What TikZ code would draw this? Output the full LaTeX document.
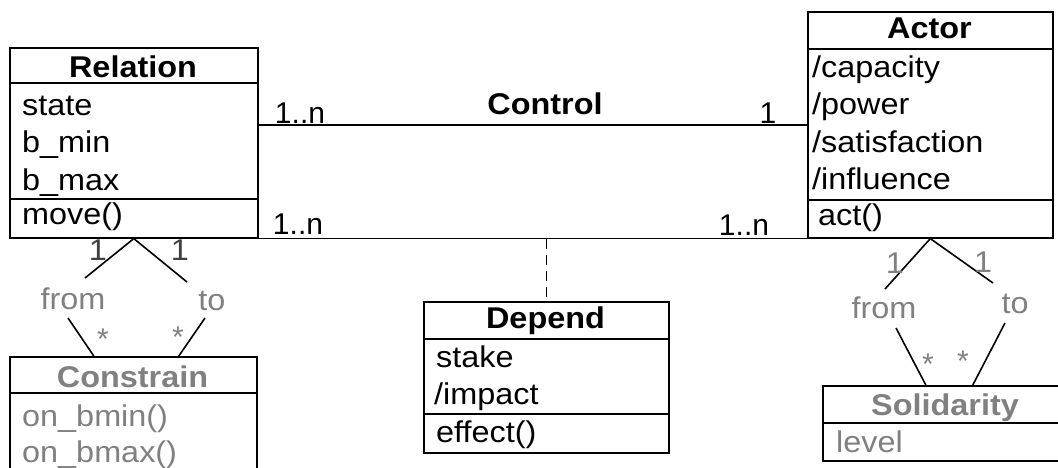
\documentclass[tikz,border=0pt]{standalone}
\usepackage{fontspec}
\setmainfont{Liberation Sans}[FakeStretch=1.08]
\newfontfamily\plainsans{Liberation Sans}
\usepackage{tikz}
\usetikzlibrary{positioning}

\definecolor{fadegray}{RGB}{128,128,128}
\newcommand\umlfont{\fontsize{30}{37}\selectfont}

\begin{document}
\begin{tikzpicture}[y=-1pt,x=1pt,
	classbox/.style={draw, line width=1.6pt, anchor=north west, inner sep=0},
	title/.style={font=\umlfont\bfseries, anchor=base, inner sep=0},
	member/.style={font=\umlfont, anchor=base west, inner sep=0},
	mult/.style={font=\plainsans\umlfont, anchor=base, inner sep=0},
	role/.style={font=\umlfont, text=fadegray, inner sep=0},
	link/.style={line width=1.6pt}]
	\useasboundingbox (0,0) rectangle (1058,467);
	\clip (0,0) rectangle (1058,467);

	% class boxes
	\node[classbox, minimum width=248pt, minimum height=190pt] (relation) at (9,47) {};
	\node[classbox, minimum width=245pt, minimum height=226pt] (actor) at (807,11) {};
	\node[classbox, minimum width=245pt, minimum height=151pt] (depend) at (423,301) {};
	\node[classbox, minimum width=247pt, minimum height=130pt] (constrain) at (9,356) {};
	\node[classbox, minimum width=246pt, minimum height=75pt] (solidarity) at (822,385) {};

	% compartments
	\draw[link] (relation.west |- 0,83) -- (relation.east |- 0,83);
	\draw[link] (relation.west |- 0,199) -- (relation.east |- 0,199);
	\draw[link] (actor.west |- 0,49) -- (actor.east |- 0,49);
	\draw[link] (actor.west |- 0,200) -- (actor.east |- 0,200);
	\draw[link] (depend.west |- 0,339) -- (depend.east |- 0,339);
	\draw[link] (depend.west |- 0,414) -- (depend.east |- 0,414);
	\draw[link] (constrain.west |- 0,393) -- (constrain.east |- 0,393);
	\draw[link] (solidarity.west |- 0,423) -- (solidarity.east |- 0,423);

	% Relation
	\node[title] (relation-name) at (133,77) {Relation};
	\node[member] (rel-state) at (22,115) {state};
	\node[member] (rel-bmin) at (22,152) {b\_min};
	\node[member] (rel-bmax) at (22,190) {b\_max};
	\node[member] (rel-move) at (22,224) {move()};

	% Actor
	\node[title] (actor-name) at (929.5,38) {Actor};
	\node[member] (act-capacity) at (812,77) {/capacity};
	\node[member] (act-power) at (812,114) {/power};
	\node[member] (act-satisfaction) at (812,152) {/satisfaction};
	\node[member] (act-influence) at (812,189) {/influence};
	\node[member] (act-act) at (818,225) {act()};

	% Depend
	\node[title] (depend-name) at (545.5,328) {Depend};
	\node[member] (dep-stake) at (436,367) {stake};
	\node[member] (dep-impact) at (434,404) {/impact};
	\node[member] (dep-effect) at (436,442) {effect()};

	% Constrain
	\node[title, text=fadegray] (constrain-name) at (132.5,387) {Constrain};
	\node[member, text=fadegray] (con-bmin) at (22,426) {on\_bmin()};
	\node[member, text=fadegray] (con-bmax) at (22,462) {on\_bmax()};

	% Solidarity
	\node[title, text=fadegray] (solidarity-name) at (945,415) {Solidarity};
	\node[member, text=fadegray] (sol-level) at (836,452) {level};

	% associations between Relation and Actor
	\draw[link] (actor.west -| relation.east) -- (actor.west);
	\draw[link] (relation.south east) -- (actor.south west);
	\draw[link, dash pattern=on 10pt off 6pt] (depend.north |- relation.south) -- (depend.north);
	\node[title] (control) at (545,114) {Control};
	\node[mult] (control-rel) at (300,123) {1..n};
	\node[mult] (control-act) at (768,123) {1};
	\node[mult] (depend-rel) at (298,234) {1..n};
	\node[mult] (depend-act) at (744,235) {1..n};

	% Relation - Constrain
	\node[role] (from1) at (73,299) {from};
	\node[role] (to1) at (212,301) {to};
	\draw[link] (relation.south) -- ([shift={(12,-21)}]from1.center);
	\draw[link] ([shift={(-5,19)}]from1.center) -- ([xshift=-39.5pt]constrain.north);
	\draw[link] (relation.south) -- ([shift={(-25,-19)}]to1.center);
	\draw[link] ([shift={(-7,17)}]to1.center) -- ([xshift=45.5pt]constrain.north);
	\node[role, text=black!75] (from1-one) at (98,250) {1};
	\node[role, text=black!75] (to1-one) at (180,250) {1};
	\node[mult, text=fadegray] (from1-many) at (103,349) {*};
	\node[mult, text=fadegray] (to1-many) at (178,347) {*};

	% Actor - Solidarity
	\node[role] (from2) at (884,308) {from};
	\node[role] (to2) at (1015,304) {to};
	\draw[link] (actor.south) -- ([shift={(1,-19)}]from2.center);
	\draw[link] ([shift={(12,20)}]from2.center) -- ([xshift=-20pt]solidarity.north);
	\draw[link] (actor.south) -- ([shift={(-22,-21)}]to2.center);
	\draw[link] ([shift={(-10,19)}]to2.center) -- ([xshift=27pt]solidarity.north);
	\node[role] (from2-one) at (895,263) {1};
	\node[role] (to2-one) at (983,262) {1};
	\node[mult, text=fadegray] (from2-many) at (928,374) {*};
	\node[mult, text=fadegray] (to2-many) at (963,371) {*};
\end{tikzpicture}
\end{document}
